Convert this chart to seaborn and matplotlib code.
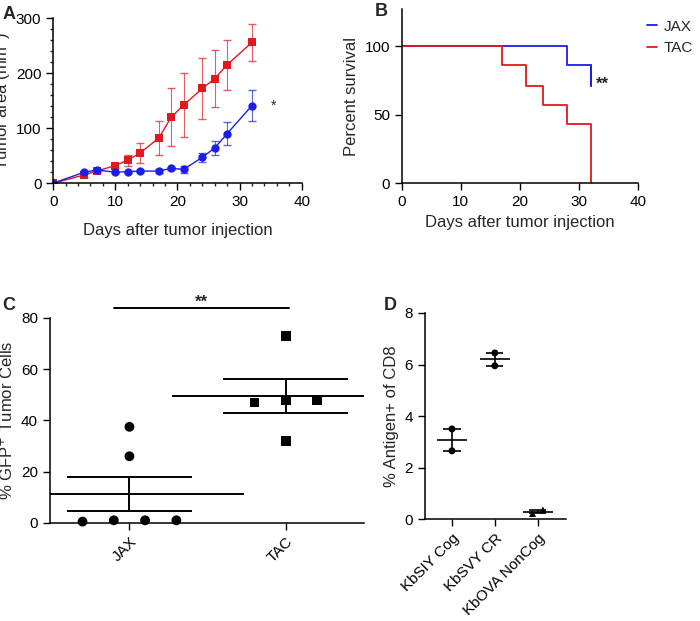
import numpy as np
import matplotlib
matplotlib.use("Agg")
import matplotlib.pyplot as plt
import seaborn as sns

sns.set_theme(style="ticks")
plt.rcParams['font.family'] = ['Liberation Sans', 'DejaVu Sans']

# Panel A data
days = [0, 5, 7, 10, 12, 14, 17, 19, 21, 24, 26, 28, 32]
tac_area = [0, 15, 22, 32, 42, 55, 82, 120, 142, 172, 190, 215, 256]
tac_err = [0, 3, 3, 5, 10, 18, 31, 53, 58, 55, 51, 45, 34]
jax_area = [0, 20, 24, 20, 21, 22, 22, 27, 25, 47, 64, 90, 141]
jax_err = [0, 2, 2, 2, 2, 2, 3, 3, 6, 8, 13, 21, 28]

# Panel B data
jax_t = [0, 28, 32]
jax_surv = [100, 86, 71]
tac_t = [0, 17, 21, 24, 28, 32]
tac_surv = [100, 86, 71, 57, 43, 0]

# Panel C data
c_groups = ["JAX", "TAC"]
jax_gfp = [37.5, 26, 0.5, 1, 1, 1]
jax_off = [0.0, 0.0, -0.3, -0.1, 0.1, 0.3]
tac_gfp = [73, 47, 48, 48, 32]
tac_off = [0.0, -0.2, 0.0, 0.2, 0.0]

# Panel D data
d_groups = ["KbSIY Cog", "KbSVY CR", "KbOVA NonCog"]
d_vals = [[3.5, 2.65], [6.45, 5.95], [0.22, 0.36]]

RED = "#e0191e"
BLUE = "#1a1ee6"
FS_TICK = 11
FS_LAB = 12

fig = plt.figure(figsize=(7, 6.21), dpi=100)

# ---- A
ax = fig.add_axes([0.076, 0.705, 0.355, 0.266])
for y, e, col, mk in [(tac_area, tac_err, RED, "s"), (jax_area, jax_err, BLUE, "o")]:
    ax.errorbar(days, y, yerr=e, fmt="none", ecolor=col, elinewidth=0.8, capsize=3, alpha=0.7)
    sns.lineplot(x=days, y=y, color=col, marker=mk, markersize=6, markeredgewidth=0, lw=1, ax=ax)
ax.text(35, 141, "*", fontsize=10, va="center")
ax.set_xlim(0, 40)
ax.set_ylim(0, 300)
ax.set_xticks([0, 10, 20, 30, 40])
ax.set_yticks([0, 100, 200, 300])
ax.set_xticks(np.arange(0, 41, 2), minor=True)
ax.set_yticks(np.arange(0, 301, 20), minor=True)
ax.set_xlabel("Days after tumor injection", fontsize=FS_LAB, labelpad=10)
ax.set_ylabel("Tumor area (mm$^2$)", fontsize=FS_LAB, labelpad=2)
sns.despine(ax=ax)
fig.text(0.003, 0.97, "A", fontsize=13, fontweight="bold")

# ---- B
ax = fig.add_axes([0.574, 0.705, 0.337, 0.28])
ax.step(jax_t, jax_surv, where="post", color=BLUE, lw=1.3, label="JAX")
ax.step(tac_t, tac_surv, where="post", color=RED, lw=1.3, label="TAC")
ax.plot([32, 32], [86, 71], color=BLUE, lw=1.3)
ax.text(33, 72, "**", fontsize=12, va="center", fontweight="bold")
ax.set_xlim(0, 40)
ax.set_ylim(0, 127)
ax.set_xticks([0, 10, 20, 30, 40])
ax.set_yticks([0, 50, 100])
ax.set_xlabel("Days after tumor injection", fontsize=FS_LAB)
ax.set_ylabel("Percent survival", fontsize=FS_LAB)
ax.legend(loc="upper left", bbox_to_anchor=(0.98, 1.02), frameon=False, fontsize=FS_TICK,
          handlelength=0.7, handletextpad=0.4)
sns.despine(ax=ax)
fig.text(0.535, 0.975, "B", fontsize=13, fontweight="bold")

# ---- C
ax = fig.add_axes([0.071, 0.158, 0.449, 0.33])
for i, (vals, off, mk) in enumerate([(jax_gfp, jax_off, "o"), (tac_gfp, tac_off, "s")]):
    xs = [i + o for o in off]
    sns.scatterplot(x=xs, y=vals, marker=mk, color="black", s=50, edgecolor="none", ax=ax, clip_on=False)
    m = np.mean(vals)
    se = np.std(vals, ddof=1) / np.sqrt(len(vals))
    ax.hlines(m, i - 0.73, i + 0.73, color="black", lw=1.4)
    ax.hlines([m - se, m + se], i - 0.4, i + 0.4, color="black", lw=1.4)
    ax.vlines(i, m - se, m + se, color="black", lw=1.4)
ax.plot([-0.1, 1.02], [84, 84], color="black", lw=1.4, clip_on=False)
ax.text(0.46, 84.5, "**", ha="center", fontsize=12, fontweight="bold")
ax.set_xlim(-0.51, 1.5)
ax.set_ylim(0, 80)
ax.set_xticks([0, 1])
ax.set_xticklabels(c_groups, rotation=45, ha="right", rotation_mode="anchor", fontsize=FS_TICK)
ax.set_yticks([0, 20, 40, 60, 80])
ax.set_ylabel("% GFP$^{+}$ Tumor Cells", fontsize=FS_LAB)
sns.despine(ax=ax)
fig.text(0.003, 0.5, "C", fontsize=13, fontweight="bold")

# ---- D
ax = fig.add_axes([0.607, 0.164, 0.201, 0.332])
for i, (vals, mk) in enumerate(zip(d_vals, ["o", "o", "^"])):
    xo = [i - 0.12, i + 0.12] if mk == "^" else [i, i]
    sns.scatterplot(x=xo, y=vals, marker=mk, color="black", s=25, edgecolor="none", ax=ax)
    m = np.mean(vals)
    se = np.std(vals, ddof=1) / np.sqrt(len(vals))
    ax.hlines(m, i - 0.35, i + 0.35, color="black", lw=1.2)
    ax.hlines([m - se, m + se], i - 0.2, i + 0.2, color="black", lw=1.2)
    ax.vlines(i, m - se, m + se, color="black", lw=1.2)
ax.set_xlim(-0.63, 2.65)
ax.set_ylim(0, 8)
ax.set_xticks([0, 1, 2])
ax.set_xticklabels(d_groups, rotation=45, ha="right", rotation_mode="anchor", fontsize=FS_TICK)
ax.set_yticks([0, 2, 4, 6, 8])
ax.set_ylabel("% Antigen+ of CD8", fontsize=FS_LAB)
sns.despine(ax=ax)
fig.text(0.548, 0.5, "D", fontsize=13, fontweight="bold")

for a in fig.axes:
    a.tick_params(labelsize=FS_TICK, width=1, length=5, colors="black")
    a.tick_params(which="minor", length=2.5)
    for s in a.spines.values():
        s.set_linewidth(1.1)
        s.set_color("black")

fig.savefig("out.png", dpi=100)
